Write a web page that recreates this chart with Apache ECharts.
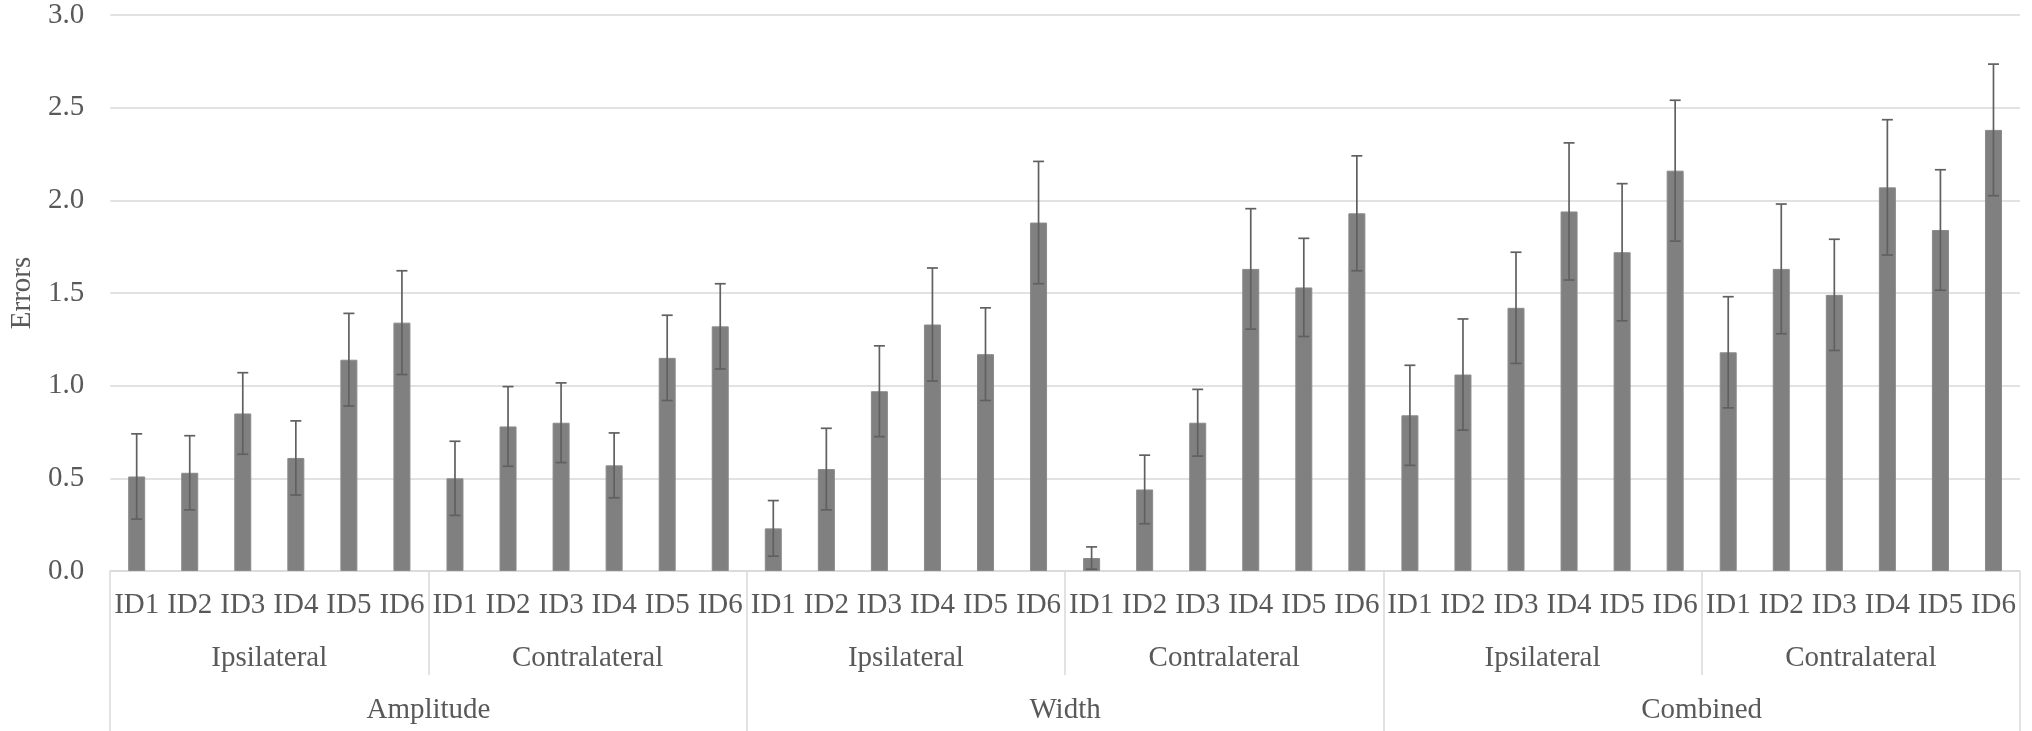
<!DOCTYPE html>
<html>
<head>
<meta charset="utf-8">
<title>Errors by ID</title>
<script src="https://cdn.jsdelivr.net/npm/echarts@6/dist/echarts.min.js"></script>
<style>
  html, body { margin: 0; padding: 0; background: #fff; }
  #main { width: 2032px; height: 731px; }
</style>
</head>
<body>
<div id="main"></div>
<script>
// labels for the three levels of the x axis
var ids = ['ID1', 'ID2', 'ID3', 'ID4', 'ID5', 'ID6'];
var sides = ['Ipsilateral', 'Contralateral'];
var measures = ['Amplitude', 'Width', 'Combined'];
var yTicks = [0, 0.5, 1, 1.5, 2, 2.5, 3];

// mean errors (Amplitude, Width, Combined; ipsi then contra)
var amplitudeIpsi = [0.51, 0.53, 0.85, 0.61, 1.14, 1.34];
var amplitudeContra = [0.50, 0.78, 0.80, 0.57, 1.15, 1.32];
var widthIpsi = [0.23, 0.55, 0.97, 1.33, 1.17, 1.88];
var widthContra = [0.07, 0.44, 0.80, 1.63, 1.53, 1.93];
var combinedIpsi = [0.84, 1.06, 1.42, 1.94, 1.72, 2.16];
var combinedContra = [1.18, 1.63, 1.49, 2.07, 1.84, 2.38];

// error bar half lengths
var amplitudeIpsiErr = [0.23, 0.20, 0.22, 0.20, 0.25, 0.28];
var amplitudeContraErr = [0.20, 0.215, 0.215, 0.175, 0.23, 0.23];
var widthIpsiErr = [0.15, 0.22, 0.245, 0.305, 0.25, 0.33];
var widthContraErr = [0.06, 0.185, 0.18, 0.325, 0.265, 0.31];
var combinedIpsiErr = [0.27, 0.30, 0.30, 0.37, 0.37, 0.38];
var combinedContraErr = [0.30, 0.35, 0.30, 0.365, 0.325, 0.355];

var means = [].concat(amplitudeIpsi, amplitudeContra, widthIpsi, widthContra, combinedIpsi, combinedContra);
var errs = [].concat(amplitudeIpsiErr, amplitudeContraErr, widthIpsiErr, widthContraErr, combinedIpsiErr, combinedContraErr);

var idLabels = [];
var sideLabels = [];
measures.forEach(function () {
  sides.forEach(function (s) {
    sideLabels.push(s);
    ids.forEach(function (id) { idLabels.push(id); });
  });
});

var errData = means.map(function (m, i) { return [i, m, errs[i]]; });

var font = "'Liberation Serif', 'Times New Roman', serif";
var textColor = '#595959';
var lineColor = '#d9d9d9';

var chart = echarts.init(document.getElementById('main'));

var option = {
  backgroundColor: '#fff',
  animation: false,
  grid: { left: 107, right: 12, top: 15, bottom: 160 },
  xAxis: [
    {
      type: 'category',
      data: idLabels,
      position: 'bottom',
      axisLine: { lineStyle: { color: lineColor, width: 1.5 } },
      axisTick: {
        show: true,
        interval: function (i) { return i % 6 === 0; },
        length: 104,
        lineStyle: { color: lineColor, width: 1.5 }
      },
      axisLabel: { interval: 0, margin: 20, fontSize: 29, color: textColor, fontFamily: font }
    },
    {
      type: 'category',
      data: measures,
      position: 'bottom',
      axisLine: { show: false },
      axisTick: { show: true, interval: 0, length: 161, lineStyle: { color: lineColor, width: 1.5 } },
      axisLabel: { interval: 0, margin: 125, fontSize: 29, color: textColor, fontFamily: font }
    },
    {
      type: 'category',
      data: sideLabels,
      position: 'bottom',
      axisLine: { show: false },
      axisTick: { show: false },
      axisLabel: { interval: 0, margin: 73, fontSize: 29, color: textColor, fontFamily: font }
    }
  ],
  yAxis: {
    type: 'value',
    min: yTicks[0],
    max: yTicks[yTicks.length - 1],
    interval: 0.5,
    name: 'Errors',
    nameLocation: 'middle',
    nameGap: 68,
    nameTextStyle: { fontSize: 29, color: textColor, fontFamily: font },
    axisLine: { show: false },
    axisTick: { show: false },
    axisLabel: {
      margin: 26,
      fontSize: 29,
      color: textColor,
      fontFamily: font,
      formatter: function (v) { return v.toFixed(1); }
    },
    splitLine: { lineStyle: { color: lineColor, width: 1.5 } }
  },
  series: [
    {
      type: 'bar',
      xAxisIndex: 0,
      data: means,
      barWidth: 17,
      itemStyle: { color: '#808080', borderColor: '#8a8a8a', borderWidth: 1 }
    },
    {
      type: 'custom',
      xAxisIndex: 0,
      data: errData,
      encode: { x: 0, y: 1 },
      z: 3,
      renderItem: function (params, api) {
        var x = api.value(0);
        var m = api.value(1);
        var e = api.value(2);
        var hi = api.coord([x, m + e]);
        var lo = api.coord([x, m - e]);
        var hw = 5.5;
        var style = { stroke: '#606060', lineWidth: 1.7 };
        return {
          type: 'group',
          children: [
            { type: 'line', shape: { x1: hi[0], y1: hi[1], x2: lo[0], y2: lo[1] }, style: style },
            { type: 'line', shape: { x1: hi[0] - hw, y1: hi[1], x2: hi[0] + hw, y2: hi[1] }, style: style },
            { type: 'line', shape: { x1: lo[0] - hw, y1: lo[1], x2: lo[0] + hw, y2: lo[1] }, style: style }
          ]
        };
      }
    }
  ]
};

chart.setOption(option);
</script>
</body>
</html>
